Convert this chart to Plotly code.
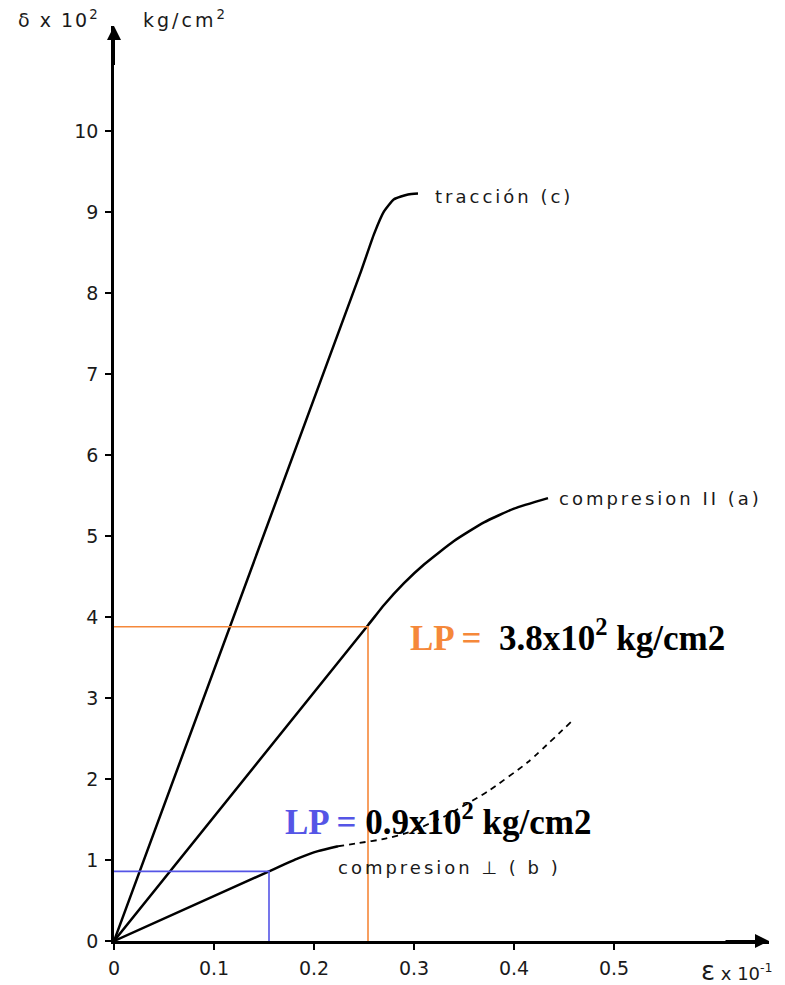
import plotly.graph_objects as go

# ---- data ----
traccion_x = [0.0, 0.247, 0.260, 0.270, 0.280, 0.294, 0.304]
traccion_y = [0.0, 8.27, 8.73, 9.01, 9.16, 9.22, 9.23]

comp_par_x = [0.0, 0.254, 0.270, 0.290, 0.310, 0.340, 0.370, 0.400, 0.434]
comp_par_y = [0.0, 3.90, 4.15, 4.42, 4.65, 4.94, 5.17, 5.34, 5.47]

comp_perp_solid_x = [0.0, 0.155, 0.184, 0.204, 0.224]
comp_perp_solid_y = [0.0, 0.86, 1.02, 1.11, 1.17]
comp_perp_dash_x = [0.224, 0.245, 0.270, 0.297, 0.334, 0.374, 0.414, 0.460]
comp_perp_dash_y = [1.17, 1.21, 1.26, 1.35, 1.56, 1.85, 2.21, 2.74]

lp_par = [0.254, 3.88]
lp_perp = [0.155, 0.86]

y_ticks = [0, 1, 2, 3, 4, 5, 6, 7, 8, 9, 10]
x_ticks = [0, 0.1, 0.2, 0.3, 0.4, 0.5]
x_tick_labels = ["0", "0.1", "0.2", "0.3", "0.4", "0.5"]

ORANGE = "#F5883A"
BLUE = "#5555E6"
FONT = "DejaVu Sans"
LS = "letter-spacing:3px"

fig = go.Figure()
line = dict(color="black", width=2.5, shape="spline", smoothing=0.5)
fig.add_trace(go.Scatter(x=traccion_x, y=traccion_y, mode="lines", line=line, hoverinfo="skip"))
fig.add_trace(go.Scatter(x=comp_par_x, y=comp_par_y, mode="lines", line=line, hoverinfo="skip"))
fig.add_trace(go.Scatter(x=comp_perp_solid_x, y=comp_perp_solid_y, mode="lines", line=line, hoverinfo="skip"))
fig.add_trace(go.Scatter(x=comp_perp_dash_x, y=comp_perp_dash_y, mode="lines",
                         line=dict(color="black", width=1.8, dash="6px,5px", shape="spline", smoothing=0.5),
                         hoverinfo="skip"))

# LP guide lines
fig.add_trace(go.Scatter(x=[0, lp_par[0], lp_par[0]], y=[lp_par[1], lp_par[1], 0], mode="lines",
                         line=dict(color=ORANGE, width=1.6), hoverinfo="skip"))
fig.add_trace(go.Scatter(x=[0, lp_perp[0], lp_perp[0]], y=[lp_perp[1], lp_perp[1], 0], mode="lines",
                         line=dict(color=BLUE, width=1.6), hoverinfo="skip"))

ann = []
# axis arrows
ann.append(dict(x=0.655, y=0, ax=0.61, ay=0, xref="x", yref="y", axref="x", ayref="y",
                showarrow=True, arrowhead=2, arrowsize=1.4, arrowwidth=2, arrowcolor="black", text=""))
ann.append(dict(x=0, y=11.3, ax=0, ay=10.8, xref="x", yref="y", axref="x", ayref="y",
                showarrow=True, arrowhead=2, arrowsize=1.4, arrowwidth=2, arrowcolor="black", text=""))
# curve labels
lbl_font = dict(family=FONT, size=18, color="#1a1a1a")
ann.append(dict(x=0.319, y=9.2, text=f"<span style='{LS}'>tracción (c)</span>", xanchor="left", yanchor="middle",
                showarrow=False, font=lbl_font))
ann.append(dict(x=0.443, y=5.46, text=f"<span style='{LS}'>compresion II (a)</span>", xanchor="left", yanchor="middle",
                showarrow=False, font=lbl_font))
ann.append(dict(x=0.222, y=0.91, text=f"<span style='{LS}'>compresion ⊥ ( b )</span>", xanchor="left", yanchor="middle",
                showarrow=False, font=lbl_font))
# LP labels
ann.append(dict(x=0.294, y=3.77, xanchor="left", yanchor="middle", showarrow=False,
                text=f"<b><span style='color:{ORANGE}'>LP = </span> 3.8x10<sup>2</sup> kg/cm2</b>",
                font=dict(family="Liberation Serif", size=35, color="black")))
ann.append(dict(x=0.169, y=1.5, xanchor="left", yanchor="middle", showarrow=False,
                text=f"<b><span style='color:{BLUE}'>LP = </span>0.9x10<sup>2</sup> kg/cm2</b>",
                font=dict(family="Liberation Serif", size=35, color="black")))
# axis titles
ttl_font = dict(family=FONT, size=19, color="#1a1a1a")
ann.append(dict(xref="paper", yref="paper", x=-0.15, y=1.008, xanchor="left", yanchor="middle",
                text="<span style='letter-spacing:2px'>δ x 10<sup>2</sup></span>", showarrow=False, font=ttl_font))
ann.append(dict(xref="paper", yref="paper", x=0.041, y=1.008, xanchor="left", yanchor="middle",
                text=f"<span style='{LS}'>kg/cm<sup>2</sup></span>", showarrow=False, font=ttl_font))
ann.append(dict(xref="paper", yref="paper", x=0.893, y=-0.033, xanchor="left", yanchor="middle",
                text="<span style='font-size:26px'>ε</span> x 10<sup>-1</sup>", showarrow=False,
                font=dict(family=FONT, size=18, color="#1a1a1a")))

axis_common = dict(showgrid=False, zeroline=False, automargin=False,
                   showline=True, linecolor="black", linewidth=2.5, ticks="outside", ticklen=6, tickwidth=1.5,
                   tickcolor="black", tickfont=dict(family=FONT, size=19, color="#1a1a1a"))

fig.update_layout(
    width=785, height=985,
    margin=dict(l=106, r=24, t=18, b=52, autoexpand=False),
    paper_bgcolor="white", plot_bgcolor="white",
    showlegend=False,
    annotations=ann,
    xaxis=dict(range=[0, 0.655], tickvals=x_ticks, ticktext=x_tick_labels, ticklabelstandoff=2, **axis_common),
    yaxis=dict(range=[0, 11.3], tickvals=y_ticks, ticklabelstandoff=3, **axis_common),
)
fig.write_html("out.html")
